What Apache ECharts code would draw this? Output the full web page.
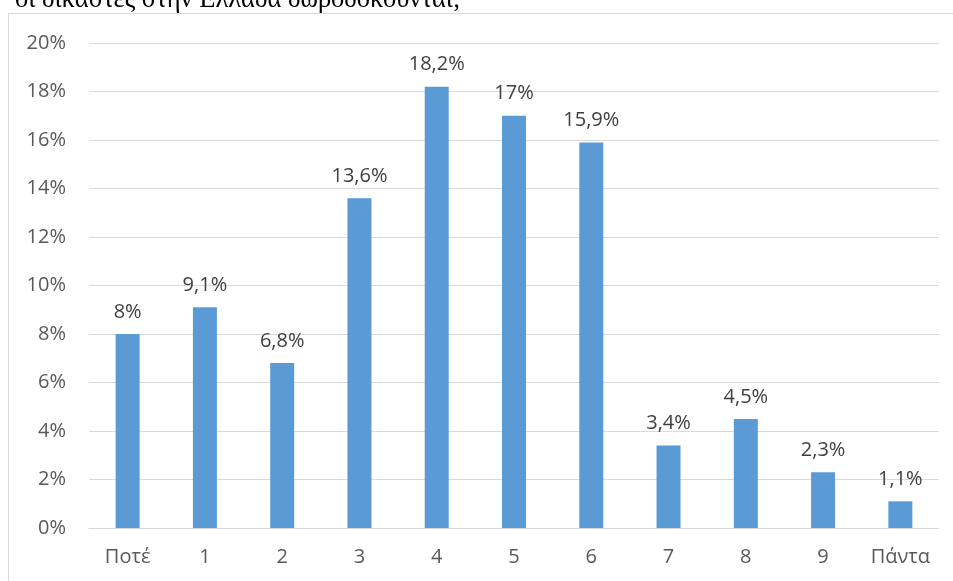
<!DOCTYPE html>
<html>
<head>
<meta charset="utf-8">
<script src="https://cdn.jsdelivr.net/npm/echarts@6/dist/echarts.min.js"></script>
<style>
  html, body { margin: 0; padding: 0; background: #fff; }
  #chart { width: 953px; height: 581px; }
</style>
</head>
<body>
<div id="chart"></div>
<script>
// categories and values (percent)
const categories = ['Ποτέ', '1', '2', '3', '4', '5', '6', '7', '8', '9', 'Πάντα'];
const values = [8, 9.1, 6.8, 13.6, 18.2, 17, 15.9, 3.4, 4.5, 2.3, 1.1];
const headingText = 'οι δικαστές στην Ελλάδα δωροδοκούνται;';

const labelFont = '"Open Sans", "Liberation Sans", sans-serif';

const chart = echarts.init(document.getElementById('chart'));
chart.setOption({
    animation: false,
    grid: {
        left: 89,
        right: 14,
        top: 43,
        bottom: 53,
    },
    graphic: [
        {
            type: 'rect',
            shape: { x: 8.5, y: 13.5, width: 960, height: 600 },
            style: { fill: 'none', stroke: '#d9d9d9', lineWidth: 1 },
            silent: true,
        },
        {
            type: 'text',
            x: 15,
            y: 0,
            style: {
                text: headingText,
                font: '26.5px "Liberation Serif", "DejaVu Serif", serif',
                fill: '#000',
                verticalAlign: 'middle',
            },
        },
    ],
    xAxis: {
        type: 'category',
        data: categories,
        axisLine: { lineStyle: { color: '#d9d9d9' } },
        axisTick: { show: false },
        axisLabel: {
            color: '#595959',
            fontSize: 20,
            fontFamily: labelFont,
            margin: 19,
        },
    },
    yAxis: {
        type: 'value',
        min: 0,
        max: 20,
        interval: 2,
        axisLine: { show: false },
        axisTick: { show: false },
        splitLine: { lineStyle: { color: '#d9d9d9' } },
        axisLabel: {
            formatter: '{value}%',
            color: '#595959',
            fontSize: 20,
            fontFamily: labelFont,
            margin: 23,
        },
    },
    series: [
        {
            type: 'bar',
            data: values,
            barWidth: 24,
            itemStyle: { color: '#5b9bd5' },
            label: {
                show: true,
                position: 'top',
                distance: 12,
                color: '#404040',
                fontSize: 20,
                fontFamily: labelFont,
                formatter: p => String(p.value).replace('.', ',') + '%',
            },
        },
    ],
});
</script>
</body>
</html>
